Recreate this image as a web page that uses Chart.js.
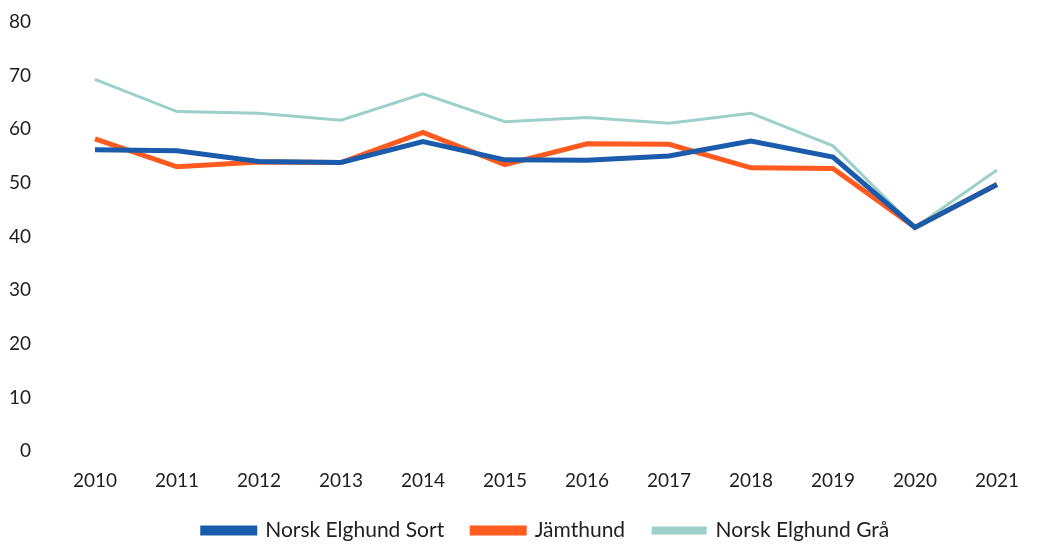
<!DOCTYPE html>
<html>
<head>
<meta charset="utf-8">
<script src="https://cdn.jsdelivr.net/npm/chart.js@4.4.1/dist/chart.umd.min.js"></script>
<style>
html,body{margin:0;padding:0;background:#fff;}
#wrap{width:1037px;height:544px;position:relative;}
</style>
</head>
<body>
<div id="wrap"><canvas id="c" width="1037" height="544"></canvas></div>
<script>
const years = ['2010','2011','2012','2013','2014','2015','2016','2017','2018','2019','2020','2021'];
const sortValues = [56.2, 56.0, 54.0, 53.8, 57.7, 54.3, 54.2, 55.0, 57.8, 54.8, 41.7, 49.7];
const jamtValues = [58.2, 53.0, 53.9, 53.8, 59.4, 53.4, 57.3, 57.2, 52.8, 52.7, 41.7, 49.7];
const graValues  = [69.3, 63.3, 63.0, 61.7, 66.6, 61.4, 62.2, 61.1, 63.0, 56.9, 41.7, 52.4];
const seriesNames = ['Norsk Elghund Sort', 'Jämthund', 'Norsk Elghund Grå'];
const yTicks = [0,10,20,30,40,50,60,70,80];

const FONT = 'Lato, "Open Sans", sans-serif';
new Chart(document.getElementById('c'), {
  type: 'line',
  data: {
    labels: years,
    datasets: [
      {label: seriesNames[0], data: sortValues, borderColor: '#1A5CAB', backgroundColor: '#1A5CAB', borderWidth: 5, pointRadius: 0, tension: 0},
      {label: seriesNames[1], data: jamtValues, borderColor: '#FF5A1F', backgroundColor: '#FF5A1F', borderWidth: 5, pointRadius: 0, tension: 0},
      {label: seriesNames[2], data: graValues, borderColor: '#9CD0C8', backgroundColor: '#9CD0C8', borderWidth: 3, pointRadius: 0, tension: 0}
    ]
  },
  options: {
    responsive: false,
    animation: false,
    layout: {padding: {top: 22, right: 31, left: 0, bottom: 0}},
    plugins: {
      tooltip: {enabled: false},
      legend: {
        position: 'bottom',
        fullSize: false,
        maxHeight: 52,
        labels: {
          font: {family: FONT, size: 21},
          color: '#1e1e1e',
          boxWidth: 52,
          boxHeight: 5,
          padding: 28
        }
      }
    },
    scales: {
      x: {
        offset: false,
        afterFit: (s) => { s.height = 41; },
        grid: {display: false, drawTicks: false},
        border: {display: false},
        ticks: {font: {family: FONT, size: 19}, color: '#1e1e1e', padding: 18, maxRotation: 0}
      },
      y: {
        min: 0, max: 80,
        afterBuildTicks: (s) => { s.ticks = yTicks.map(v => ({value: v})); },
        afterFit: (s) => { s.width = 95; s.paddingTop = 0; s.paddingBottom = 0; },
        grid: {display: false, drawTicks: false},
        border: {display: false},
        ticks: {font: {family: FONT, size: 19}, color: '#1e1e1e', padding: 64}
      }
    }
  }
});
</script>
</body>
</html>
